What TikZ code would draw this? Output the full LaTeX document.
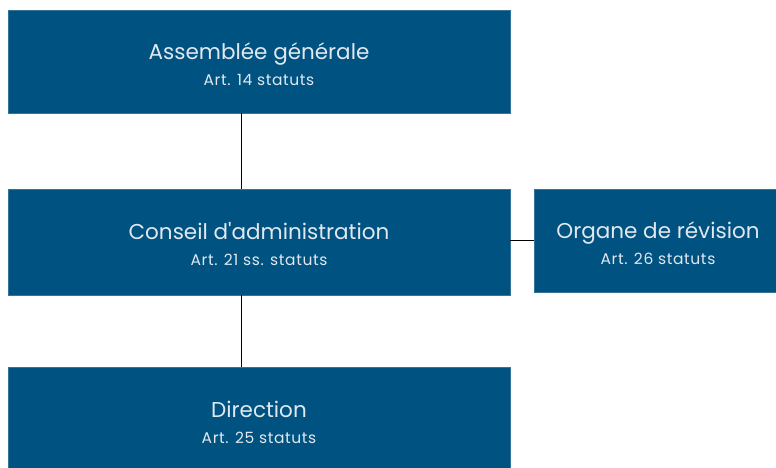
\documentclass[tikz,border=0pt]{standalone}
\usepackage{fontspec}
\setmainfont{Poppins}[Ligatures=TeXOff]
\usepackage{tikz}
\usetikzlibrary{positioning}
\definecolor{boxblue}{RGB}{0,82,128}
\definecolor{boxtext}{RGB}{225,232,240}
\tikzset{
    organ/.style={
        draw=boxblue!80!white,
        fill=boxblue,
        text=boxtext,
        minimum width=502pt,
        minimum height=103pt,
        align=center,
        inner sep=0pt,
        text height=48pt,
        text depth=1pt,
        font=\fontsize{21.5}{26}\selectfont
    },
    link/.style={
        draw,
        black,
        thin
    }
}
\newcommand{\artref}[1]{\\[0pt]{\fontsize{15.5}{17}\selectfont\addfontfeatures{LetterSpace=4}#1}}

\begin{document}
\begin{tikzpicture}[x=1pt, y=1pt]
    \useasboundingbox (0,0) rectangle (776,-467);

    % Boxes
    \node[organ] (ag) at (259,-61.5) {Assemblée générale\artref{Art. 14 statuts}};
    \node[organ, minimum height=106pt] (ca) at (259,-242) {Conseil d'administration\artref{Art. 21 ss. statuts}};
    \node[organ, minimum width=248pt] (or) at (658,-240.5) {Organe de révision\artref{Art. 26 statuts}};
    \node[organ, minimum height=106pt] (dir) at (259,-420) {Direction\artref{Art. 25 statuts}};

    % Links
    \draw[link] ([xshift=-18pt]ag.south) -- ([xshift=-18pt]ca.north);
    \draw[link] ([xshift=-18pt]ca.south) -- ([xshift=-18pt]dir.north);
    \draw[link] (ca.east |- or.west) -- (or.west);
\end{tikzpicture}
\end{document}
